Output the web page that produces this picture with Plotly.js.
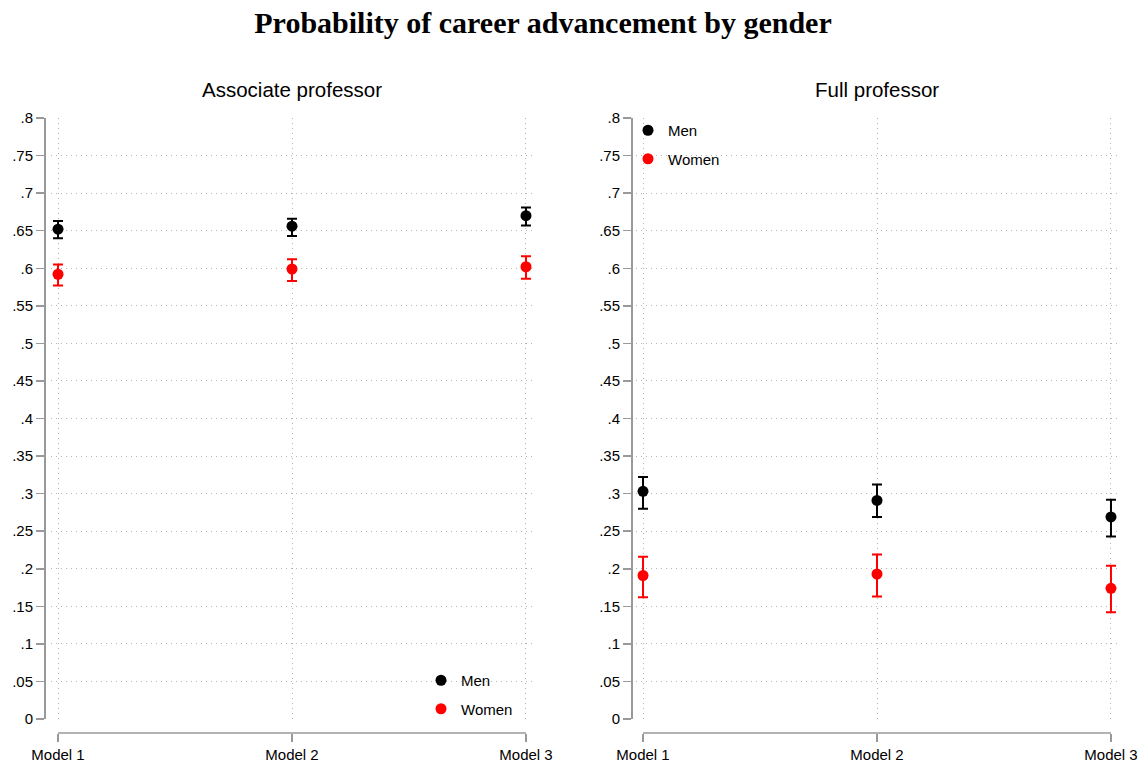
<!DOCTYPE html>
<html>
<head>
<meta charset="utf-8">
<script src="https://cdn.plot.ly/plotly-3.0.1.min.js"></script>
<style>html,body{margin:0;padding:0;background:#fff;}#chart{width:1148px;height:763px;}</style>
</head>
<body>
<div id="chart"></div>
<script>
// ---- data ----
const models = ["Model 1", "Model 2", "Model 3"];
const modelPos = [1, 2, 3];

// Associate professor
const assocMen      = [0.652, 0.656, 0.670];
const assocMenLo    = [0.640, 0.643, 0.657];
const assocMenHi    = [0.663, 0.666, 0.681];
const assocWomen    = [0.592, 0.599, 0.602];
const assocWomenLo  = [0.577, 0.583, 0.586];
const assocWomenHi  = [0.605, 0.612, 0.616];

// Full professor
const fullMen       = [0.303, 0.291, 0.269];
const fullMenLo     = [0.280, 0.269, 0.243];
const fullMenHi     = [0.322, 0.312, 0.292];
const fullWomen     = [0.191, 0.193, 0.174];
const fullWomenLo   = [0.162, 0.163, 0.142];
const fullWomenHi   = [0.216, 0.219, 0.204];

const yTickVals = [0, 0.05, 0.1, 0.15, 0.2, 0.25, 0.3, 0.35, 0.4, 0.45, 0.5, 0.55, 0.6, 0.65, 0.7, 0.75, 0.8];
const yTickText = ["0", ".05", ".1", ".15", ".2", ".25", ".3", ".35", ".4", ".45", ".5", ".55", ".6", ".65", ".7", ".75", ".8"];

// ---- helpers ----
const W = 1148, H = 763;
const fx = px => px / W;
const fy = py => 1 - py / H;
const MEN_COLOR = "#000000", WOMEN_COLOR = "#ff0000";

function trace(vals, lo, hi, name, color, xa, ya, legend) {
  return {
    type: "scatter", mode: "markers",
    x: modelPos, y: vals, name: name,
    xaxis: xa, yaxis: ya, legend: legend, legendgroup: legend + name,
    cliponaxis: false,
    marker: {color: color, size: 11},
    error_y: {
      type: "data", symmetric: false,
      array: hi.map((h, i) => h - vals[i]),
      arrayminus: lo.map((l, i) => vals[i] - l),
      color: color, thickness: 2, width: 5
    }
  };
}

const data = [
  trace(assocMen, assocMenLo, assocMenHi, "Men", MEN_COLOR, "x", "y", "legend"),
  trace(assocWomen, assocWomenLo, assocWomenHi, "Women", WOMEN_COLOR, "x", "y", "legend"),
  trace(fullMen, fullMenLo, fullMenHi, "Men", MEN_COLOR, "x2", "y2", "legend2"),
  trace(fullWomen, fullWomenLo, fullWomenHi, "Women", WOMEN_COLOR, "x2", "y2", "legend2")
];

const tickFont = {family: "Liberation Sans, Arial, sans-serif", size: 15, color: "#000"};
const gridColor = "#b4b4b4";
const gridDash = "1px,4px";
const axisColor = "#999999";

function xAxis(domain) {
  return {
    domain: domain, range: [0.97, 3.03], anchor: "free", position: fy(733),
    tickmode: "array", tickvals: modelPos, ticktext: models,
    ticks: "outside", ticklen: 8, tickwidth: 1.5, tickcolor: axisColor,
    showline: false, showgrid: true, gridcolor: gridColor, griddash: gridDash, gridwidth: 1,
    zeroline: false, tickfont: tickFont, fixedrange: true
  };
}
function yAxis(pos) {
  return {
    domain: [fy(719), fy(118)], range: [0, 0.8], anchor: "free", position: pos,
    tickmode: "array", tickvals: yTickVals, ticktext: yTickText,
    ticks: "outside", ticklen: 8, tickwidth: 1.5, tickcolor: axisColor,
    showline: true, linecolor: axisColor, linewidth: 1.5,
    showgrid: true, gridcolor: gridColor, griddash: gridDash, gridwidth: 1,
    zeroline: false, tickfont: tickFont, fixedrange: true
  };
}

const legendFont = {family: "Liberation Sans, Arial, sans-serif", size: 15, color: "#000"};

const layout = {
  width: W, height: H,
  margin: {l: 0, r: 0, t: 0, b: 0},
  paper_bgcolor: "#fff", plot_bgcolor: "#fff",
  title: {text: "<b>Probability of career advancement by gender</b>",
          font: {family: "Liberation Serif, Times New Roman, serif", size: 30, color: "#000"},
          x: fx(543), xanchor: "center", y: fy(22), yanchor: "middle"},
  xaxis: xAxis([fx(51), fx(533)]),
  yaxis: yAxis(fx(44)),
  xaxis2: xAxis([fx(636), fx(1118)]),
  yaxis2: yAxis(fx(631)),
  showlegend: true,
  legend: {x: fx(421), xanchor: "left", y: fy(664), yanchor: "top",
           bgcolor: "rgba(0,0,0,0)", font: legendFont, traceorder: "grouped", tracegroupgap: 6, itemwidth: 30},
  legend2: {x: fx(628), xanchor: "left", y: fy(114), yanchor: "top",
           bgcolor: "rgba(0,0,0,0)", font: legendFont, traceorder: "grouped", tracegroupgap: 6, itemwidth: 30},
  annotations: [
    {text: "Associate professor", xref: "paper", yref: "paper", x: fx(292), y: fy(89),
     xanchor: "center", yanchor: "middle", showarrow: false,
     font: {family: "Liberation Sans, Arial, sans-serif", size: 20.5, color: "#000"}},
    {text: "Full professor", xref: "paper", yref: "paper", x: fx(877), y: fy(89),
     xanchor: "center", yanchor: "middle", showarrow: false,
     font: {family: "Liberation Sans, Arial, sans-serif", size: 20.5, color: "#000"}}
  ],
  shapes: [
    {type: "line", xref: "x", yref: "paper", x0: modelPos[0], x1: modelPos[modelPos.length - 1],
     y0: fy(733), y1: fy(733), line: {color: axisColor, width: 1.5}},
    {type: "line", xref: "x2", yref: "paper", x0: modelPos[0], x1: modelPos[modelPos.length - 1],
     y0: fy(733), y1: fy(733), line: {color: axisColor, width: 1.5}}
  ]
};

Plotly.newPlot("chart", data, layout, {displayModeBar: false, staticPlot: true});
</script>
</body>
</html>
